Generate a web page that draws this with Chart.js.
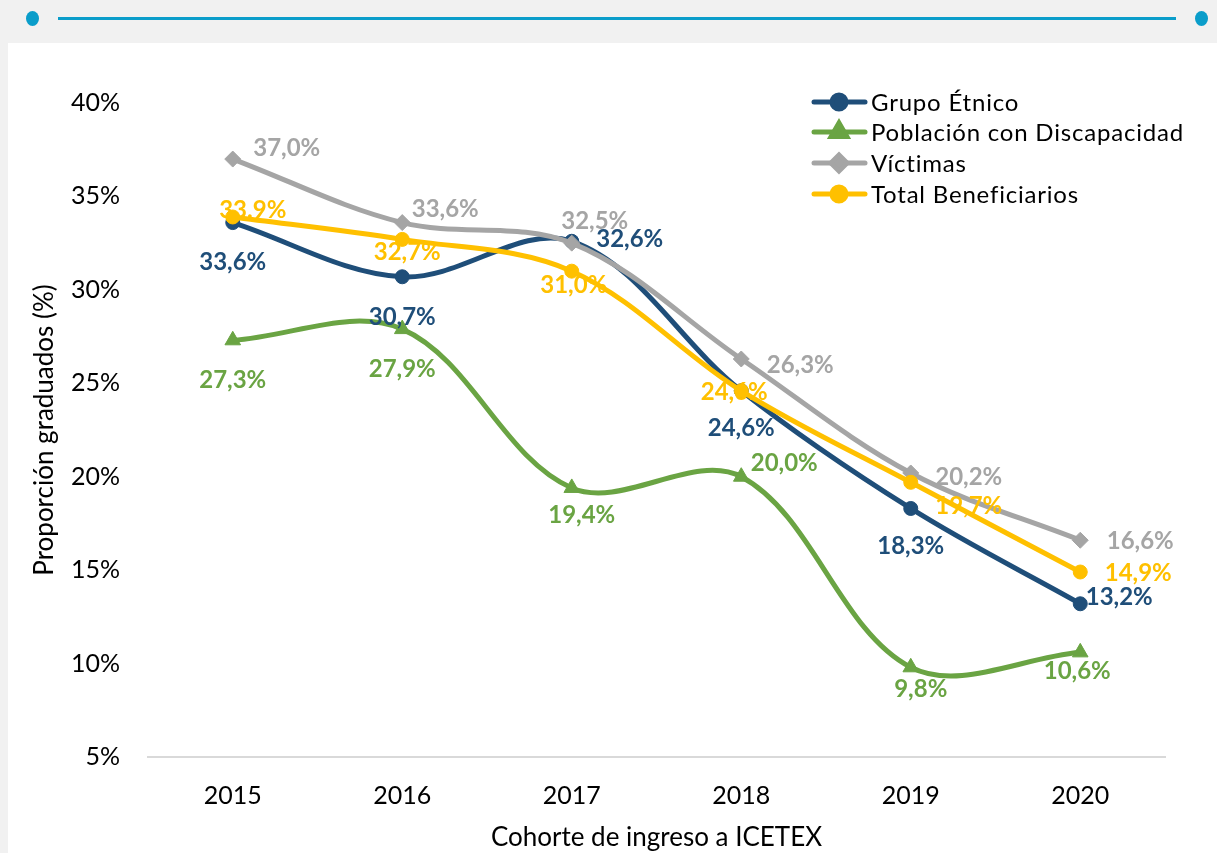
<!DOCTYPE html>
<html lang="es">
<head>
<meta charset="utf-8">
<title>Proporción graduados por cohorte</title>
<script src="https://cdn.jsdelivr.net/npm/chart.js@4.4.1/dist/chart.umd.min.js"></script>
<style>
  html, body { margin: 0; padding: 0; }
  body {
    width: 1217px; height: 853px; overflow: hidden; position: relative;
    background: #f1f1f1; font-family: Lato, sans-serif;
  }
  .panel { position: absolute; left: 8px; top: 43px; right: 0; bottom: 0; background: #fff; }
  .rule { position: absolute; left: 58px; width: 1118px; top: 17px; height: 3px; background: #0a9dca; }
  .dot { position: absolute; top: 11px; width: 13px; height: 15px; border-radius: 50%; background: #0a9dca; }
  #wrap { position: absolute; left: 0; top: 0; width: 1217px; height: 853px; }
</style>
</head>
<body>
<div class="panel"></div>
<div class="dot" style="left:26px"></div>
<div class="rule"></div>
<div class="dot" style="left:1195px"></div>
<div id="wrap"><canvas id="grafico"></canvas></div>

<script>
// Datos (proporción de graduados, %)
const years = ['2015', '2016', '2017', '2018', '2019', '2020'];
const grupoEtnico = [33.6, 30.7, 32.6, 24.6, 18.3, 13.2];
const discapacidad = [27.3, 27.9, 19.4, 20.0, 9.8, 10.6];
const victimas = [37.0, 33.6, 32.5, 26.3, 20.2, 16.6];
const totalBeneficiarios = [33.9, 32.7, 31.0, 24.6, 19.7, 14.9];
const yMin = 5, yMax = 40, yStep = 5;

// Colores
const AZUL = '#1f4e79';
const VERDE = '#6aa443';
const GRIS = '#a5a5a5';
const AMARILLO = '#ffc000';
const FONT = 'Lato, "Open Sans", sans-serif';

// Ubicación de las etiquetas respecto al punto [dx, dy]
const offAzul = [[0, 40], [0, 40], [58, -2], [0, 38], [0, 38], [39, -7]];
const offVerde = [[0, 40], [0, 40], [10, 27], [43, -13], [10, 22], [-3, 19]];
const offGris = [[54, -11], [43, -13], [23, -22], [59, 6], [58, 4], [60, 1]];
const offAmarillo = [[20, -7], [5, 13], [2, 14], [-7, 2], [58, 24], [58, 1]];
// el primer valor del total aparece con punto decimal en el original
const sepAmarillo = ['.', ',', ',', ',', ',', ','];

function fmt(v, sep) {
    return v.toFixed(1).replace('.', sep || ',') + '%';
}

// Etiquetas de datos dibujadas a mano
const etiquetasPlugin = {
    id: 'etiquetas',
    afterDatasetsDraw(chart) {
        const ctx = chart.ctx;
        ctx.save();
        ctx.font = 'bold 24px ' + FONT;
        ctx.textAlign = 'center';
        ctx.textBaseline = 'middle';
        chart.data.datasets.forEach((ds, i) => {
            const meta = chart.getDatasetMeta(i);
            ctx.fillStyle = ds.borderColor;
            meta.data.forEach((pt, j) => {
                const o = ds.labelOffsets[j];
                const sep = ds.labelSep ? ds.labelSep[j] : ',';
                ctx.fillText(fmt(ds.data[j], sep), pt.x + o[0], pt.y + o[1]);
            });
        });
        ctx.restore();
    }
};

// Leyenda dentro del área del gráfico
const leyendaPlugin = {
    id: 'leyendaInterna',
    afterDraw(chart) {
        const ctx = chart.ctx;
        const rows = [102, 132, 163, 194];
        ctx.save();
        chart.data.datasets.forEach((ds, r) => {
            const y = rows[r];
            ctx.strokeStyle = ds.borderColor;
            ctx.lineWidth = 5;
            ctx.lineCap = 'round';
            ctx.beginPath();
            ctx.moveTo(814, y);
            ctx.lineTo(865, y);
            ctx.stroke();
            ctx.fillStyle = ds.borderColor;
            Chart.helpers.drawPoint(ctx, {
                pointStyle: ds.pointStyle, radius: ds.pointRadius, rotation: 0, borderWidth: 1
            }, 839, y);
            ctx.fillStyle = '#000';
            ctx.font = '24px ' + FONT;
            ctx.letterSpacing = '0.8px';
            ctx.textAlign = 'left';
            ctx.textBaseline = 'middle';
            ctx.fillText(ds.label, 871, y + 1);
            ctx.letterSpacing = '0px';
        });
        ctx.restore();
    }
};

function serie(label, data, color, style, radius, offsets, order) {
    return {
        label: label,
        data: data,
        borderColor: color,
        backgroundColor: color,
        pointBackgroundColor: color,
        pointBorderColor: color,
        borderWidth: 5,
        pointStyle: style,
        pointRadius: radius,
        pointBorderWidth: 1,
        tension: 0.35,
        fill: false,
        labelOffsets: offsets,
        order: order
    };
}

const datasets = [
    serie('Grupo Étnico', grupoEtnico, AZUL, 'circle', 7, offAzul, 3),
    serie('Población con Discapacidad', discapacidad, VERDE, 'triangle', 9, offVerde, 2),
    serie('Víctimas', victimas, GRIS, 'rectRot', 8, offGris, 1),
    serie('Total Beneficiarios', totalBeneficiarios, AMARILLO, 'circle', 7, offAmarillo, 0)
];
datasets[3].labelSep = sepAmarillo;

new Chart(document.getElementById('grafico'), {
    type: 'line',
    data: { labels: years, datasets: datasets },
    options: {
        responsive: true,
        maintainAspectRatio: false,
        animation: false,
        layout: { padding: { left: 29, top: 103, right: 52, bottom: 0 } },
        plugins: {
            legend: { display: false },
            tooltip: { enabled: false }
        },
        scales: {
            x: {
                offset: true,
                grid: { display: false, drawTicks: false },
                border: { display: true, color: '#d9d9d9', width: 2 },
                ticks: { color: '#000', font: { family: FONT, size: 25 }, padding: 24 },
                title: {
                    display: true,
                    text: 'Cohorte de ingreso a ICETEX',
                    color: '#000',
                    font: { family: FONT, size: 26 },
                    padding: 0
                },
                afterFit(scale) { scale.height = 96; }
            },
            y: {
                min: yMin,
                max: yMax,
                grid: { display: false, drawTicks: false },
                border: { display: false },
                ticks: {
                    stepSize: yStep,
                    color: '#000',
                    font: { family: FONT, size: 25 },
                    padding: 28,
                    callback: (v) => v + '%'
                },
                title: {
                    display: true,
                    text: 'Proporción graduados (%)',
                    color: '#000',
                    font: { family: FONT, size: 26 },
                    padding: 0
                },
                afterFit(scale) { scale.width = 119; }
            }
        }
    },
    plugins: [etiquetasPlugin, leyendaPlugin]
});
</script>
</body>
</html>
